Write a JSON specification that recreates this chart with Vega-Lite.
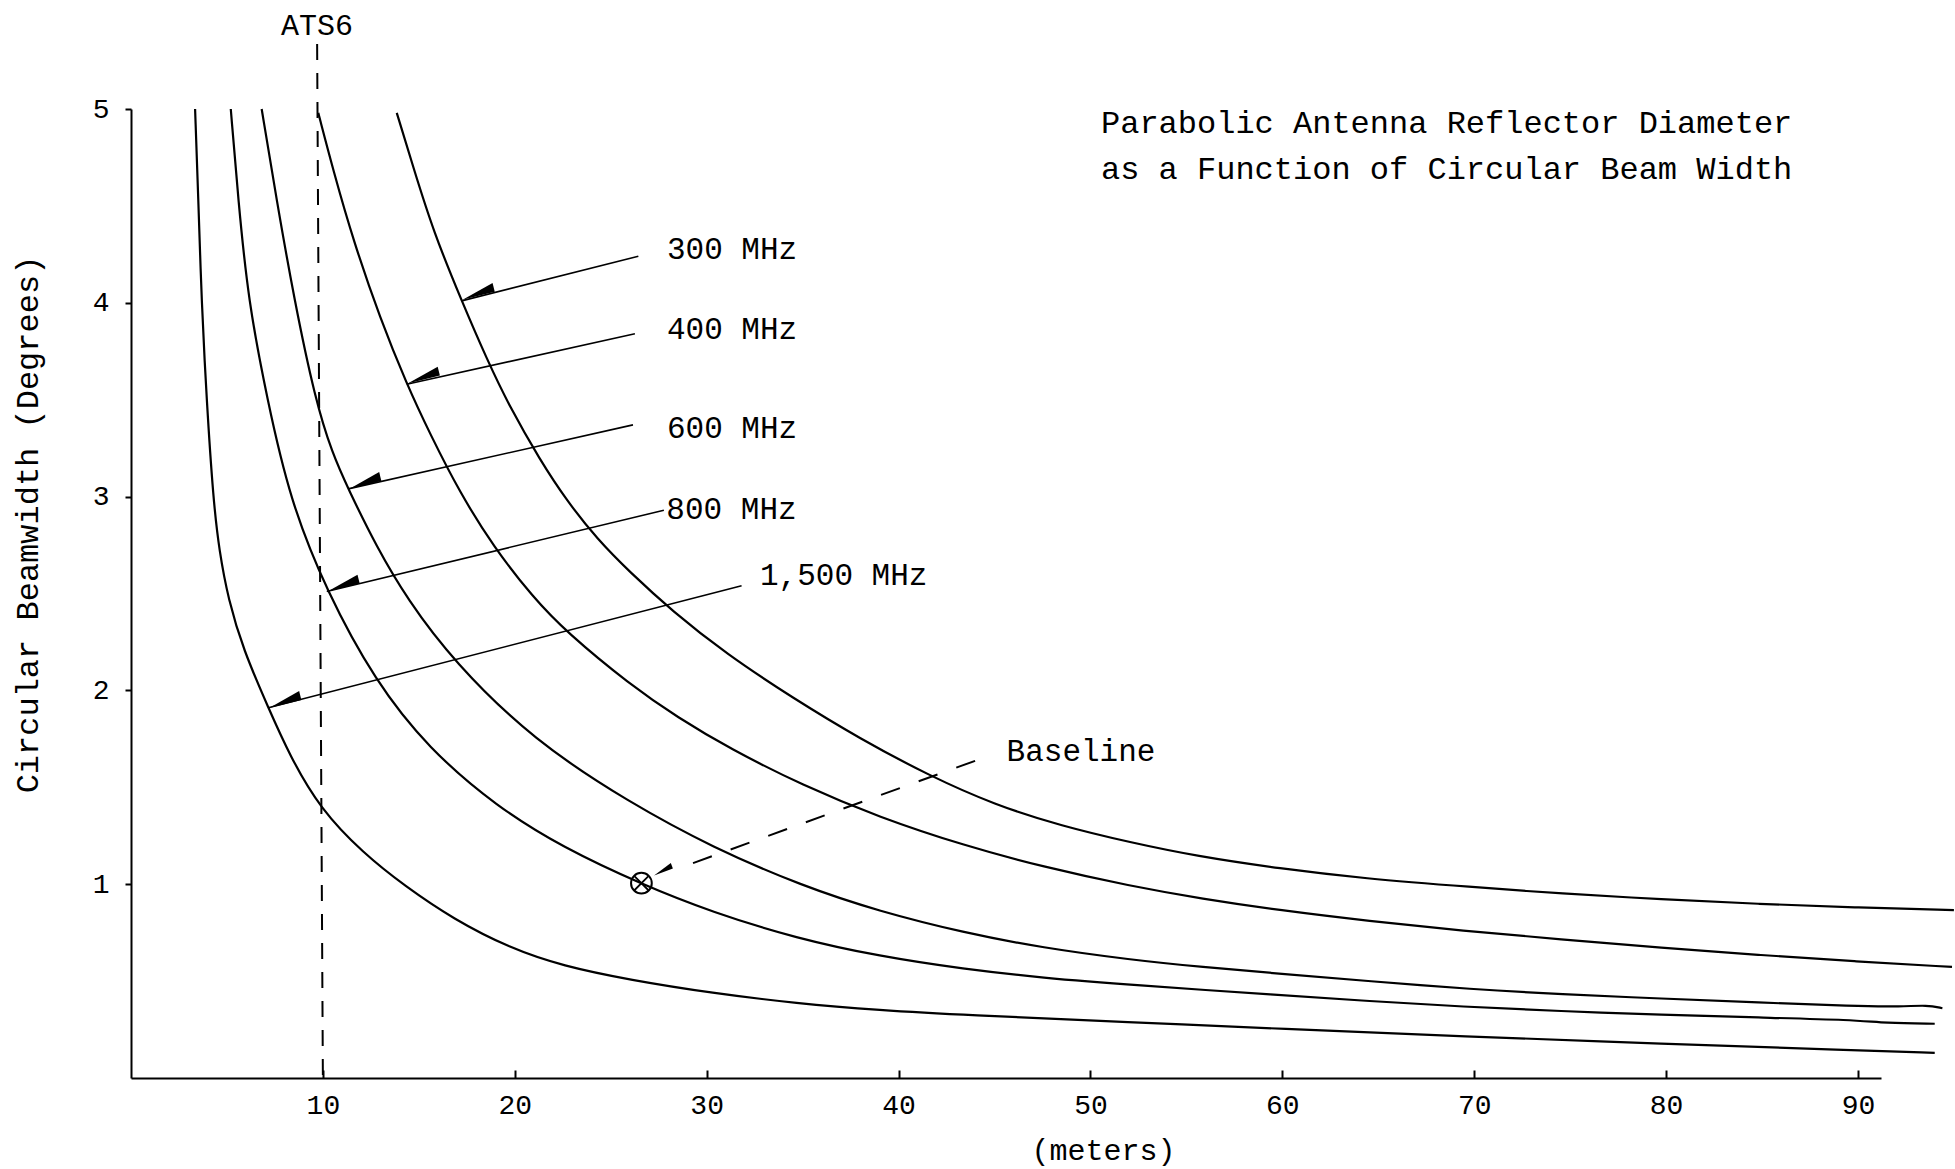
{
  "$schema": "https://vega.github.io/schema/vega-lite/v6.json",
  "width": 1750,
  "height": 969,
  "autosize": {"type": "none"},
  "padding": {"left": 131, "top": 109, "right": 74, "bottom": 91},
  "background": "white",
  "view": {"stroke": null},
  "config": {
    "font": "Liberation Mono",
    "axis": {
      "domainColor": "black", "domainWidth": 2,
      "tickColor": "black", "tickWidth": 2,
      "labelColor": "black", "titleColor": "black",
      "grid": false,
      "labelFont": "Liberation Mono", "titleFont": "Liberation Mono",
      "labelFontSize": 28, "titleFontWeight": "normal", "labelFlush": false
    }
  },
  "datasets": {
    "curves": [
      {"freq": "300 MHz", "D": 13.85, "theta": 4.98},
      {"freq": "300 MHz", "D": 14.71, "theta": 4.70},
      {"freq": "300 MHz", "D": 15.75, "theta": 4.37},
      {"freq": "300 MHz", "D": 17.23, "theta": 4.01},
      {"freq": "300 MHz", "D": 18.54, "theta": 3.71},
      {"freq": "300 MHz", "D": 19.75, "theta": 3.46},
      {"freq": "300 MHz", "D": 21.31, "theta": 3.19},
      {"freq": "300 MHz", "D": 22.7, "theta": 2.98},
      {"freq": "300 MHz", "D": 24.3, "theta": 2.78},
      {"freq": "300 MHz", "D": 26.0, "theta": 2.61},
      {"freq": "300 MHz", "D": 28.2, "theta": 2.41},
      {"freq": "300 MHz", "D": 31.0, "theta": 2.19},
      {"freq": "300 MHz", "D": 34.5, "theta": 1.96},
      {"freq": "300 MHz", "D": 38.0, "theta": 1.75},
      {"freq": "300 MHz", "D": 41.6, "theta": 1.56},
      {"freq": "300 MHz", "D": 45.0, "theta": 1.41},
      {"freq": "300 MHz", "D": 48.5, "theta": 1.30},
      {"freq": "300 MHz", "D": 52.1, "theta": 1.215},
      {"freq": "300 MHz", "D": 55.5, "theta": 1.145},
      {"freq": "300 MHz", "D": 59.9, "theta": 1.08},
      {"freq": "300 MHz", "D": 64.2, "theta": 1.03},
      {"freq": "300 MHz", "D": 69.9, "theta": 0.985},
      {"freq": "300 MHz", "D": 74.5, "theta": 0.952},
      {"freq": "300 MHz", "D": 79.8, "theta": 0.922},
      {"freq": "300 MHz", "D": 84.8, "theta": 0.898},
      {"freq": "300 MHz", "D": 89.8, "theta": 0.88},
      {"freq": "300 MHz", "D": 95.0, "theta": 0.866},

      {"freq": "400 MHz", "D": 9.76, "theta": 4.98},
      {"freq": "400 MHz", "D": 10.55, "theta": 4.68},
      {"freq": "400 MHz", "D": 11.59, "theta": 4.32},
      {"freq": "400 MHz", "D": 12.98, "theta": 3.92},
      {"freq": "400 MHz", "D": 14.37, "theta": 3.58},
      {"freq": "400 MHz", "D": 15.6, "theta": 3.32},
      {"freq": "400 MHz", "D": 17.14, "theta": 3.02},
      {"freq": "400 MHz", "D": 18.9, "theta": 2.74},
      {"freq": "400 MHz", "D": 20.95, "theta": 2.48},
      {"freq": "400 MHz", "D": 22.7, "theta": 2.30},
      {"freq": "400 MHz", "D": 26.0, "theta": 2.03},
      {"freq": "400 MHz", "D": 28.5, "theta": 1.86},
      {"freq": "400 MHz", "D": 31.2, "theta": 1.70},
      {"freq": "400 MHz", "D": 35.0, "theta": 1.51},
      {"freq": "400 MHz", "D": 39.0, "theta": 1.345},
      {"freq": "400 MHz", "D": 43.4, "theta": 1.20},
      {"freq": "400 MHz", "D": 47.5, "theta": 1.09},
      {"freq": "400 MHz", "D": 52.1, "theta": 0.99},
      {"freq": "400 MHz", "D": 55.8, "theta": 0.925},
      {"freq": "400 MHz", "D": 59.9, "theta": 0.865},
      {"freq": "400 MHz", "D": 64.5, "theta": 0.81},
      {"freq": "400 MHz", "D": 69.4, "theta": 0.76},
      {"freq": "400 MHz", "D": 74.5, "theta": 0.715},
      {"freq": "400 MHz", "D": 79.8, "theta": 0.672},
      {"freq": "400 MHz", "D": 84.8, "theta": 0.635},
      {"freq": "400 MHz", "D": 89.8, "theta": 0.602},
      {"freq": "400 MHz", "D": 94.9, "theta": 0.573},

      {"freq": "600 MHz", "D": 6.81, "theta": 5.0},
      {"freq": "600 MHz", "D": 7.59, "theta": 4.53},
      {"freq": "600 MHz", "D": 8.5, "theta": 4.02},
      {"freq": "600 MHz", "D": 9.6, "theta": 3.5},
      {"freq": "600 MHz", "D": 10.5, "theta": 3.22},
      {"freq": "600 MHz", "D": 11.32, "theta": 3.04},
      {"freq": "600 MHz", "D": 12.8, "theta": 2.74},
      {"freq": "600 MHz", "D": 14.4, "theta": 2.47},
      {"freq": "600 MHz", "D": 16.8, "theta": 2.15},
      {"freq": "600 MHz", "D": 21.0, "theta": 1.74},
      {"freq": "600 MHz", "D": 26.0, "theta": 1.42},
      {"freq": "600 MHz", "D": 30.3, "theta": 1.19},
      {"freq": "600 MHz", "D": 35.0, "theta": 0.99},
      {"freq": "600 MHz", "D": 39.0, "theta": 0.86},
      {"freq": "600 MHz", "D": 43.4, "theta": 0.75},
      {"freq": "600 MHz", "D": 47.5, "theta": 0.672},
      {"freq": "600 MHz", "D": 52.1, "theta": 0.61},
      {"freq": "600 MHz", "D": 55.8, "theta": 0.573},
      {"freq": "600 MHz", "D": 59.9, "theta": 0.538},
      {"freq": "600 MHz", "D": 64.5, "theta": 0.50},
      {"freq": "600 MHz", "D": 69.9, "theta": 0.458},
      {"freq": "600 MHz", "D": 74.5, "theta": 0.432},
      {"freq": "600 MHz", "D": 79.8, "theta": 0.41},
      {"freq": "600 MHz", "D": 84.8, "theta": 0.39},
      {"freq": "600 MHz", "D": 89.8, "theta": 0.37},
      {"freq": "600 MHz", "D": 92.3, "theta": 0.368},
      {"freq": "600 MHz", "D": 93.6, "theta": 0.377},
      {"freq": "600 MHz", "D": 94.4, "theta": 0.36},

      {"freq": "800 MHz", "D": 5.2, "theta": 5.0},
      {"freq": "800 MHz", "D": 5.59, "theta": 4.53},
      {"freq": "800 MHz", "D": 6.11, "theta": 4.01},
      {"freq": "800 MHz", "D": 7.1, "theta": 3.5},
      {"freq": "800 MHz", "D": 8.29, "theta": 2.98},
      {"freq": "800 MHz", "D": 10.2, "theta": 2.51},
      {"freq": "800 MHz", "D": 12.71, "theta": 2.05},
      {"freq": "800 MHz", "D": 15.5, "theta": 1.70},
      {"freq": "800 MHz", "D": 19.06, "theta": 1.40},
      {"freq": "800 MHz", "D": 22.5, "theta": 1.19},
      {"freq": "800 MHz", "D": 26.6, "theta": 1.0},
      {"freq": "800 MHz", "D": 30.3, "theta": 0.855},
      {"freq": "800 MHz", "D": 34.7, "theta": 0.72},
      {"freq": "800 MHz", "D": 39.0, "theta": 0.628},
      {"freq": "800 MHz", "D": 43.4, "theta": 0.562},
      {"freq": "800 MHz", "D": 47.5, "theta": 0.517},
      {"freq": "800 MHz", "D": 52.1, "theta": 0.48},
      {"freq": "800 MHz", "D": 59.9, "theta": 0.428},
      {"freq": "800 MHz", "D": 64.5, "theta": 0.397},
      {"freq": "800 MHz", "D": 69.4, "theta": 0.368},
      {"freq": "800 MHz", "D": 74.5, "theta": 0.345},
      {"freq": "800 MHz", "D": 79.8, "theta": 0.326},
      {"freq": "800 MHz", "D": 84.8, "theta": 0.312},
      {"freq": "800 MHz", "D": 89.8, "theta": 0.30},
      {"freq": "800 MHz", "D": 91.4, "theta": 0.283},
      {"freq": "800 MHz", "D": 94.0, "theta": 0.28},

      {"freq": "1,500 MHz", "D": 3.34, "theta": 5.0},
      {"freq": "1,500 MHz", "D": 3.51, "theta": 4.53},
      {"freq": "1,500 MHz", "D": 3.68, "theta": 4.0},
      {"freq": "1,500 MHz", "D": 3.94, "theta": 3.5},
      {"freq": "1,500 MHz", "D": 4.29, "theta": 2.98},
      {"freq": "1,500 MHz", "D": 4.6, "theta": 2.72},
      {"freq": "1,500 MHz", "D": 5.07, "theta": 2.47},
      {"freq": "1,500 MHz", "D": 5.85, "theta": 2.21},
      {"freq": "1,500 MHz", "D": 7.16, "theta": 1.91},
      {"freq": "1,500 MHz", "D": 8.29, "theta": 1.66},
      {"freq": "1,500 MHz", "D": 9.85, "theta": 1.39},
      {"freq": "1,500 MHz", "D": 12.1, "theta": 1.16},
      {"freq": "1,500 MHz", "D": 14.28, "theta": 0.99},
      {"freq": "1,500 MHz", "D": 16.8, "theta": 0.82},
      {"freq": "1,500 MHz", "D": 19.75, "theta": 0.67},
      {"freq": "1,500 MHz", "D": 22.5, "theta": 0.578},
      {"freq": "1,500 MHz", "D": 26.0, "theta": 0.506},
      {"freq": "1,500 MHz", "D": 30.3, "theta": 0.438},
      {"freq": "1,500 MHz", "D": 34.7, "theta": 0.385},
      {"freq": "1,500 MHz", "D": 39.0, "theta": 0.35},
      {"freq": "1,500 MHz", "D": 43.4, "theta": 0.325},
      {"freq": "1,500 MHz", "D": 52.1, "theta": 0.288},
      {"freq": "1,500 MHz", "D": 59.9, "theta": 0.254},
      {"freq": "1,500 MHz", "D": 69.4, "theta": 0.215},
      {"freq": "1,500 MHz", "D": 79.8, "theta": 0.177},
      {"freq": "1,500 MHz", "D": 89.8, "theta": 0.143},
      {"freq": "1,500 MHz", "D": 94.0, "theta": 0.13}
    ],
    "pointers": [
      {"name": "300 MHz", "D": 17.23, "theta": 4.01},
      {"name": "300 MHz", "D": 26.44, "theta": 4.24},
      {"name": "400 MHz", "D": 14.37, "theta": 3.58},
      {"name": "400 MHz", "D": 26.26, "theta": 3.84},
      {"name": "600 MHz", "D": 11.32, "theta": 3.04},
      {"name": "600 MHz", "D": 26.16, "theta": 3.37},
      {"name": "800 MHz", "D": 10.2, "theta": 2.51},
      {"name": "800 MHz", "D": 27.77, "theta": 2.93},
      {"name": "1,500 MHz", "D": 7.16, "theta": 1.91},
      {"name": "1,500 MHz", "D": 31.82, "theta": 2.54}
    ],
    "wedges": [
      {"name": "300 MHz", "D": 18.12, "theta": 4.036},
      {"name": "400 MHz", "D": 15.26, "theta": 3.604},
      {"name": "600 MHz", "D": 12.21, "theta": 3.06},
      {"name": "800 MHz", "D": 11.08, "theta": 2.531},
      {"name": "1,500 MHz", "D": 8.04, "theta": 1.93}
    ],
    "ats6": [
      {"D": 9.7, "theta": 5.335},
      {"D": 10.0, "theta": 0}
    ],
    "baseline": [
      {"D": 29.29, "theta": 1.109},
      {"D": 44.59, "theta": 1.658}
    ],
    "marker": [
      {"D": 26.6, "theta": 1.005}
    ],
    "baselineWedge": [
      {"D": 27.75, "theta": 1.063}
    ],
    "labels": [
      {"text": "300 MHz", "D": 27.93, "theta": 4.27},
      {"text": "400 MHz", "D": 27.93, "theta": 3.86},
      {"text": "600 MHz", "D": 27.93, "theta": 3.35},
      {"text": "800 MHz", "D": 27.9, "theta": 2.93},
      {"text": "1,500 MHz", "D": 32.78, "theta": 2.59},
      {"text": "Baseline", "D": 45.63, "theta": 1.68}
    ],
    "titleLines": [
      {"text": "Parabolic Antenna Reflector Diameter", "D": 50.55, "theta": 4.93},
      {"text": "as a Function of Circular Beam Width", "D": 50.55, "theta": 4.69}
    ],
    "atsLabel": [
      {"text": "ATS6", "D": 9.69, "theta": 5.43}
    ]
  },
  "encoding": {
    "x": {
      "field": "D", "type": "quantitative",
      "scale": {"domain": [0, 91.2], "nice": false, "zero": false},
      "axis": {
        "title": "(meters)", "values": [10, 20, 30, 40, 50, 60, 70, 80, 90], "format": "d",
        "tickSize": -8, "labelPadding": 21,
        "titleFontSize": 30, "titleX": 972, "titleY": 72,
        "titleAlign": "center", "titleBaseline": "middle"
      }
    },
    "y": {
      "field": "theta", "type": "quantitative",
      "scale": {"domain": [0, 5], "nice": false, "zero": false},
      "axis": {
        "title": "Circular Beamwidth (Degrees)", "values": [1, 2, 3, 4, 5], "format": "d",
        "tickSize": 6, "labelPadding": 16,
        "titleFontSize": 32, "titleX": -104, "titleY": 415, "titleAngle": 270,
        "titleAlign": "center", "titleBaseline": "middle"
      }
    }
  },
  "layer": [
    {
      "data": {"name": "curves"},
      "mark": {"type": "line", "color": "black", "strokeWidth": 2.2, "interpolate": "basis"},
      "encoding": {"detail": {"field": "freq", "type": "nominal"}}
    },
    {
      "data": {"name": "pointers"},
      "mark": {"type": "line", "color": "black", "strokeWidth": 1.6},
      "encoding": {"detail": {"field": "name", "type": "nominal"}}
    },
    {
      "data": {"name": "wedges"},
      "mark": {"type": "point", "shape": "M -1 0 L 1 -0.55 L 1 0 Z", "filled": true, "color": "black", "size": 1100, "angle": -14, "opacity": 1}
    },
    {
      "data": {"name": "ats6"},
      "mark": {"type": "line", "color": "black", "strokeWidth": 2, "strokeDash": [16, 13]},
      "encoding": {}
    },
    {
      "data": {"name": "baseline"},
      "mark": {"type": "line", "color": "black", "strokeWidth": 2, "strokeDash": [20, 20]},
      "encoding": {}
    },
    {
      "data": {"name": "marker"},
      "mark": {"type": "point", "shape": "circle", "filled": false, "color": "black", "strokeWidth": 2, "size": 430, "opacity": 1}
    },
    {
      "data": {"name": "marker"},
      "mark": {"type": "point", "shape": "M -0.6 -0.6 L 0.6 0.6 M -0.6 0.6 L 0.6 -0.6", "filled": false, "color": "black", "strokeWidth": 1.8, "size": 548, "opacity": 1}
    },
    {
      "data": {"name": "baselineWedge"},
      "mark": {"type": "point", "shape": "M -1 0 L 1 -0.6 L 1 0 Z", "filled": true, "color": "black", "size": 400, "angle": -20, "opacity": 1}
    },
    {
      "data": {"name": "labels"},
      "mark": {"type": "text", "align": "left", "baseline": "middle", "fontSize": 31, "font": "Liberation Mono", "color": "black"},
      "encoding": {"text": {"field": "text", "type": "nominal"}}
    },
    {
      "data": {"name": "titleLines"},
      "mark": {"type": "text", "align": "left", "baseline": "middle", "fontSize": 32, "font": "Liberation Mono", "color": "black"},
      "encoding": {"text": {"field": "text", "type": "nominal"}}
    },
    {
      "data": {"name": "atsLabel"},
      "mark": {"type": "text", "align": "center", "baseline": "middle", "fontSize": 30, "font": "Liberation Mono", "color": "black"},
      "encoding": {"text": {"field": "text", "type": "nominal"}}
    }
  ]
}
